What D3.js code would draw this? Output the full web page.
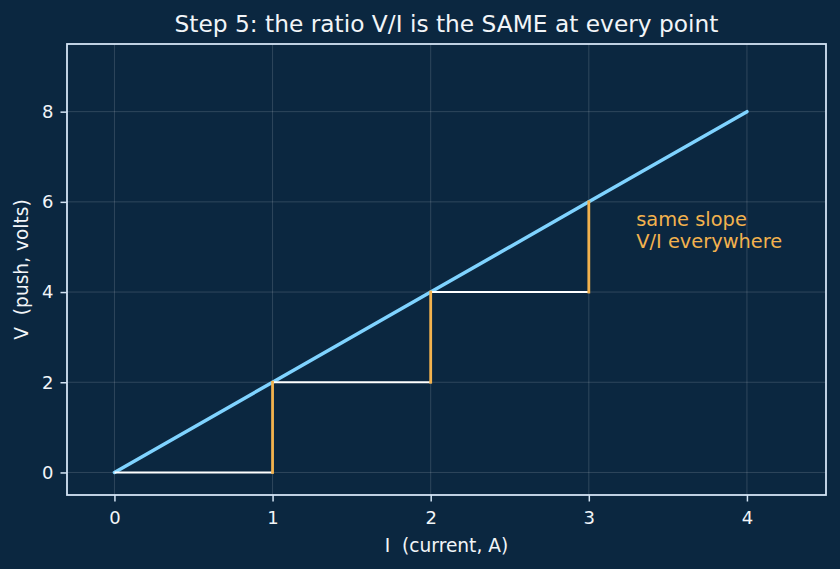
<!DOCTYPE html>
<html>
<head>
<meta charset="utf-8">
<script src="https://cdn.jsdelivr.net/npm/d3@7"></script>
<style>
  body { margin: 0; background: #0b2740; }
  svg { display: block; }
  text { font-family: "DejaVu Sans", sans-serif; white-space: pre; }
</style>
</head>
<body>
<script>
// line V = R * I
var current = [0, 1, 2, 3, 4];
var voltage = [0, 2, 4, 6, 8];

// step triangles: run (white) then rise (orange)
var runs = [[0, 0, 1, 0], [1, 2, 2, 2], [2, 4, 3, 4]];
var rises = [[1, 0, 1, 2], [2, 2, 2, 4], [3, 4, 3, 6]];

var xTicks = [0, 1, 2, 3, 4];
var yTicks = [0, 2, 4, 6, 8];

var noteLines = ["same slope", "V/I everywhere"];
var notePos = [3.3, 5.4];

var width = 840, height = 569;
var margin = {top: 44, right: 14, bottom: 74, left: 67};
var w = width - margin.left - margin.right;
var h = height - margin.top - margin.bottom;

var svg = d3.select("body").append("svg")
  .attr("width", width)
  .attr("height", height);

svg.append("rect")
  .attr("width", width)
  .attr("height", height)
  .attr("fill", "#0b2740");

var g = svg.append("g")
  .attr("transform", "translate(" + margin.left + "," + margin.top + ")");

var x = d3.scaleLinear().domain([-0.3, 4.5]).range([0, w]);
var y = d3.scaleLinear().domain([-0.5, 9.5]).range([h, 0]);

// grid
g.selectAll(".gx").data(xTicks).enter().append("line")
  .attr("x1", d => x(d)).attr("x2", d => x(d))
  .attr("y1", 0).attr("y2", h)
  .attr("stroke", "#ffffff").attr("stroke-opacity", 0.15).attr("stroke-width", 1);
g.selectAll(".gy").data(yTicks).enter().append("line")
  .attr("y1", d => y(d)).attr("y2", d => y(d))
  .attr("x1", 0).attr("x2", w)
  .attr("stroke", "#ffffff").attr("stroke-opacity", 0.15).attr("stroke-width", 1);

// main line
var pts = current.map((c, i) => [c, voltage[i]]);
g.append("path")
  .datum(pts)
  .attr("fill", "none")
  .attr("stroke", "#7fd3ff")
  .attr("stroke-width", 3.5)
  .attr("stroke-linecap", "round")
  .attr("d", d3.line().x(d => x(d[0])).y(d => y(d[1])));

// runs
g.selectAll(".run").data(runs).enter().append("line")
  .attr("x1", d => x(d[0])).attr("y1", d => y(d[1]))
  .attr("x2", d => x(d[2])).attr("y2", d => y(d[3]))
  .attr("stroke", "#ffffff").attr("stroke-width", 2);

// rises
g.selectAll(".rise").data(rises).enter().append("line")
  .attr("x1", d => x(d[0])).attr("y1", d => y(d[1]))
  .attr("x2", d => x(d[2])).attr("y2", d => y(d[3]))
  .attr("stroke", "#f2b24e").attr("stroke-width", 2.8)
  .attr("stroke-linecap", "square");

// annotation
g.append("text")
  .attr("x", x(notePos[0]))
  .attr("y", y(notePos[1]))
  .attr("fill", "#f2b24e")
  .attr("font-size", 19.4)
  .selectAll("tspan").data(noteLines).enter().append("tspan")
  .attr("x", x(notePos[0]))
  .attr("dy", (d, i) => i == 0 ? "-0.17em" : "1.15em")
  .text(d => d);

// frame
g.append("rect")
  .attr("width", w).attr("height", h)
  .attr("fill", "none")
  .attr("stroke", "#d3e4f4").attr("stroke-width", 1.8);

// axes
var xAxis = g.append("g")
  .attr("transform", "translate(0," + h + ")")
  .call(d3.axisBottom(x).tickValues(xTicks).tickSize(6.5).tickPadding(9.5).tickFormat(d3.format("d")));
var yAxis = g.append("g")
  .call(d3.axisLeft(y).tickValues(yTicks).tickSize(6.5).tickPadding(7).tickFormat(d3.format("d")));

[xAxis, yAxis].forEach(function(a) {
  a.select(".domain").remove();
  a.selectAll("line").attr("stroke", "#d3e4f4").attr("stroke-width", 1.5);
  a.selectAll("text")
    .attr("fill", "#f2f5f8")
    .attr("font-size", 18)
    .style("font-family", "DejaVu Sans, sans-serif");
});

// labels
svg.append("text")
  .attr("x", margin.left + w / 2)
  .attr("y", 552)
  .attr("text-anchor", "middle")
  .attr("fill", "#f2f5f8")
  .attr("font-size", 18.6)
  .text("I  (current, A)");

svg.append("text")
  .attr("transform", "translate(27.5," + (margin.top + h / 2) + ") rotate(-90)")
  .attr("text-anchor", "middle")
  .attr("fill", "#f2f5f8")
  .attr("font-size", 18.6)
  .text("V  (push, volts)");

svg.append("text")
  .attr("x", margin.left + w / 2)
  .attr("y", 32)
  .attr("text-anchor", "middle")
  .attr("fill", "#f2f5f8")
  .attr("font-size", 23.3)
  .text("Step 5: the ratio V/I is the SAME at every point");
</script>
</body>
</html>
